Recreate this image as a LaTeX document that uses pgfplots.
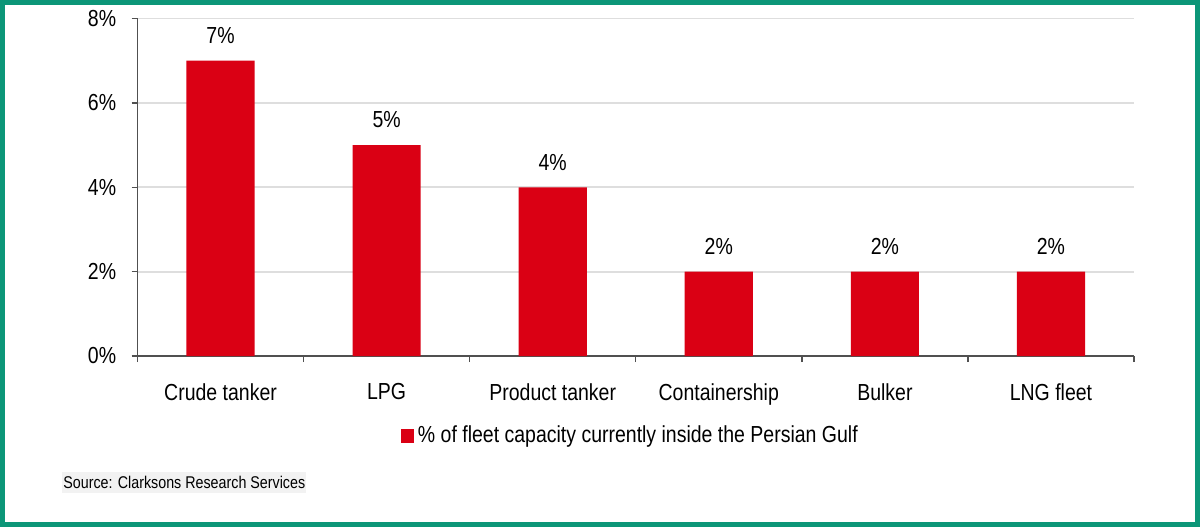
\documentclass[border=0pt]{standalone}
\usepackage{fontspec}
\setmainfont{Liberation Sans}[FakeStretch=0.84]
\usepackage{pgfplots}
\pgfplotsset{compat=1.18}
\definecolor{barred}{RGB}{218,0,20}
\definecolor{frameg}{RGB}{12,150,120}
\definecolor{gridg}{RGB}{222,222,222}
\definecolor{axg}{RGB}{80,80,80}
\definecolor{srcbg}{RGB}{242,242,242}
\begin{document}
\begin{tikzpicture}
\fill[white] (0,0) rectangle (600pt,263.5pt);
\begin{axis}[
  at={(68.75pt,85.5pt)}, anchor=south west,
  scale only axis, width=498.25pt, height=168.75pt,
  ybar, bar width=0.41,
  xmin=-0.5, xmax=5.5, ymin=0, ymax=8,
  xtick={0,1,2,3,4,5},
  xticklabels={Crude tanker,LPG,Product tanker,Containership,Bulker,LNG fleet},
  minor xtick={-0.5,0.5,1.5,2.5,3.5,4.5,5.5},
  major x tick style={draw=none},
  minor tick length=3pt, major tick length=3pt,
  tick align=outside,
  ytick={0,2,4,6,8},
  yticklabel={\pgfmathprintnumber{\tick}\%},
  axis lines*=left,
  axis line style={axg, line width=0.7pt},
  tick style={axg, line width=0.7pt},
  ymajorgrids, grid style={gridg, line width=0.9pt},
  /pgf/number format/assume math mode=true,
  ticklabel style={font=\fontsize{11.6}{13}\selectfont, inner sep=0pt},
  xticklabel style={anchor=north, yshift=-10.5pt},
  yticklabel style={anchor=east, xshift=-7.5pt},
  nodes near coords={\pgfmathprintnumber{\pgfplotspointmeta}\%},
  nodes near coords style={font=\fontsize{11.6}{13}\selectfont, inner sep=0pt, anchor=south, yshift=8.3pt},
  legend style={at={(0.4955,-0.237)}, anchor=center, draw=none, fill=none, inner sep=0pt,
    font=\fontsize{11.6}{13}\selectfont, /tikz/every even column/.append style={column sep=0pt}},
  legend cell align=left,
  legend image code/.code={\fill[barred] (0pt,-3.4pt) rectangle (6.6pt,3.4pt);},
  clip=false,
]
\addplot[fill=barred, draw=none] coordinates {(0,7) (1,5) (2,4) (3,2) (4,2) (5,2)};
\addlegendentry{\% of fleet capacity currently inside the Persian Gulf}
\end{axis}
\node[anchor=west, fill=srcbg, inner xsep=0.5pt, inner ysep=2pt, font=\fontsize{8.5}{10}\selectfont] at (31pt,22.25pt) {Source: Clarksons Research Services};
\draw[frameg, line width=2.6pt] (1.3pt,1.3pt) rectangle (598.7pt,262.2pt);
\pgfresetboundingbox
\useasboundingbox (0,0) rectangle (600pt,263.5pt);
\end{tikzpicture}
\end{document}
